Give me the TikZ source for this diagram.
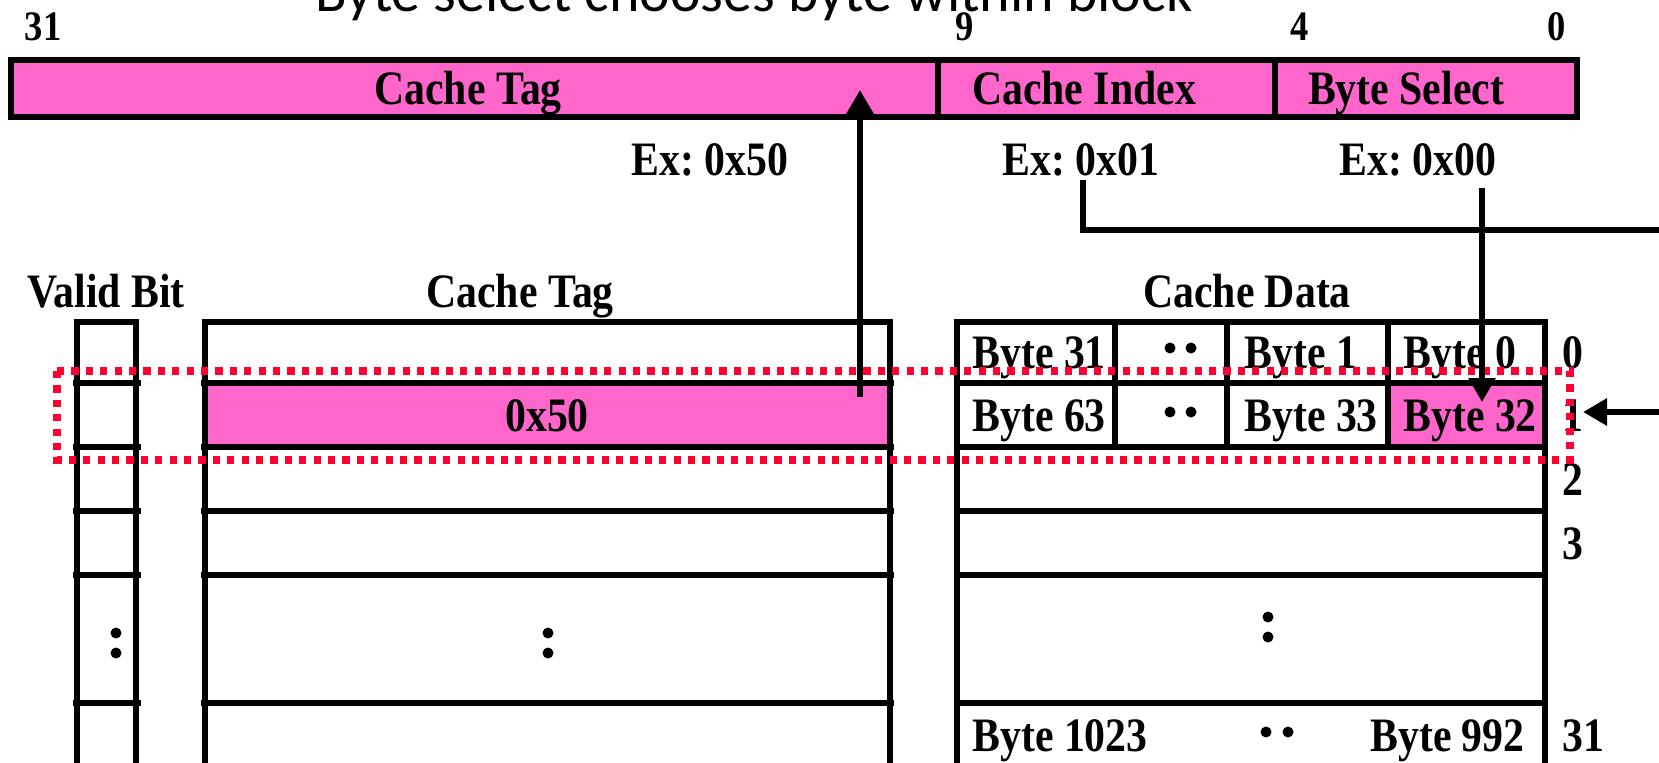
\documentclass[tikz,border=0pt]{standalone}
\usepackage{fontspec}
\newfontfamily\slidefont{Liberation Serif}[FakeStretch=0.87]
\newfontfamily\titlefont{Carlito}
\usetikzlibrary{arrows.meta}
\definecolor{tagpink}{RGB}{255,102,204}
\definecolor{selred}{RGB}{255,0,51}
\frenchspacing

\begin{document}
\begin{tikzpicture}[x=0.5pt,y=0.5pt,yscale=-1,xscale=1,
    lbl/.style={inner sep=0pt,font=\slidefont\bfseries\fontsize{24}{28}\selectfont},
    bitno/.style={inner sep=0pt,font=\slidefont\bfseries\fontsize{21}{24}\selectfont},
    barline/.style={line width=3pt},
    rowline/.style={line width=2.6pt},
    ptr/.style={line width=3pt,-{Triangle[width=13pt,length=12pt]}},
    hilite/.style={selred,line width=3.6pt,dash pattern=on 3.6pt off 3.6pt}]
        \useasboundingbox (0,0) rectangle (1659,762);
        \clip (0,0) rectangle (1659,762);

        % Title (cut by the top edge)
        \node[font=\titlefont\fontsize{29}{30}\selectfont,anchor=base,inner sep=0pt] (title) at (754,11) {Byte select chooses byte within block};

        %Address fields
        \fill[tagpink] (11,60) rectangle (1577,117);
        \draw[barline] (11,60) rectangle (1577,117);
        \draw[barline] (938,60) -- (938,117);
        \draw[barline] (1275,60) -- (1275,117);

        % Text Node
        \node[lbl,anchor=base] (addrtag) at (468,104) {Cache Tag};
        \node[lbl,anchor=base] (addrindex) at (1084,104) {Cache Index};
        \node[lbl,anchor=base] (addrbyte) at (1406,104) {Byte Select};
        \node[bitno,anchor=base] (bit31) at (43,40) {31};
        \node[bitno,anchor=base] (bit9) at (965,40) {9};
        \node[bitno,anchor=base] (bit4) at (1300,40) {4};
        \node[bitno,anchor=base] (bit0) at (1557,40) {0};
        \node[lbl,anchor=base] (extag) at (710,175) {Ex: 0x50};
        \node[lbl,anchor=base] (exindex) at (1081,175) {Ex: 0x01};
        \node[lbl,anchor=base] (exbyte) at (1418,175) {Ex: 0x00};

        % Text Node
        \node[lbl,anchor=base] (hdvalid) at (106,307) {Valid Bit};
        \node[lbl,anchor=base] (hdtag) at (520,307) {Cache Tag};
        \node[lbl,anchor=base] (hddata) at (1247,307) {Cache Data};

        %Valid bit column
        \draw[rowline] (77,770) -- (77,322) -- (136,322) -- (136,770);
        \foreach \y in {383,447,511,575,703}
            \draw[rowline] (73,\y) -- (141,\y);

        %Cache tag column
        \fill[tagpink] (205,383) rectangle (890,447);
        \draw[rowline] (205,770) -- (205,322) -- (890,322) -- (890,770);
        \foreach \y in {383,447,511,575,703}
            \draw[rowline] (201,\y) -- (894,\y);

        %Cache data column
        \fill[tagpink] (1388,383) rectangle (1545,447);
        \draw[rowline] (957,770) -- (957,322) -- (1545,322) -- (1545,770);
        \foreach \y in {383,447,511,575,703}
            \draw[rowline] (957,\y) -- (1545,\y);
        \foreach \x in {1115,1227,1388}
            \draw[rowline] (\x,322) -- (\x,447);

        % Text Node
        \node[lbl,anchor=base] (tagrow1) at (547,431) {0x50};
        \node[lbl,anchor=base west] (byte31) at (972,368) {Byte 31};
        \node[lbl,anchor=base west] (byte1) at (1244,368) {Byte 1};
        \node[lbl,anchor=base west] (byte0) at (1403,368) {Byte 0};
        \node[lbl,anchor=base west] (byte63) at (972,431) {Byte 63};
        \node[lbl,anchor=base west] (byte33) at (1244,431) {Byte 33};
        \node[lbl,anchor=base west] (byte32) at (1403,431) {Byte 32};
        \node[lbl,anchor=base west] (byte1023) at (972,751) {Byte 1023};
        \node[lbl,anchor=base east] (byte992) at (1525,751) {Byte 992};
        \foreach \n/\y in {0/368,1/431,2/495,3/559,31/751}
            \node[lbl,anchor=base west] (row\n) at (1562,\y) {\n};

        %Dots
        \foreach \x/\y in {1170/348,1191/348,1170/412,1191/412,1266/732,1288/732,
                           116/633,116/653,548/633,548/653,1268/617,1268/637}
            \fill (\x,\y) circle [radius=5.5];

        %Selected line
        \draw[hilite] (57,371) rectangle (1570,460);

        %Straight Lines
        \coordinate (tagsrc) at (860,397);
        \coordinate (tagdst) at (860,90);
        \coordinate (idxsrc) at (1083,180);
        \coordinate (idxout) at (1670,230);
        \coordinate (selsrc) at (1482,188);
        \coordinate (seldst) at (1482,402);
        \coordinate (rowsrc) at (1670,412);
        \coordinate (rowdst) at (1583,412);
        \draw[ptr] (tagsrc) -- (tagdst);
        \draw[barline] (idxsrc) |- (idxout);
        \draw[ptr] (selsrc) -- (seldst);
        \draw[ptr] (rowsrc) -- (rowdst);

\end{tikzpicture}
\end{document}
